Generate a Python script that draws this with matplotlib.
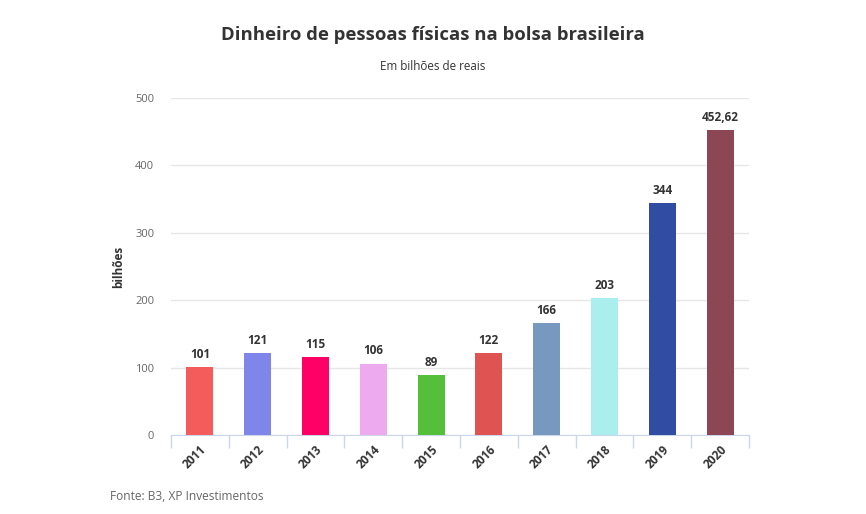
import matplotlib
matplotlib.use('Agg')
import matplotlib.pyplot as plt
import numpy as np

plt.rcParams['font.family'] = ['Open Sans', 'DejaVu Sans']

# data
anos = ['2011', '2012', '2013', '2014', '2015', '2016', '2017', '2018', '2019', '2020']
valores = [101, 121, 115, 106, 89, 122, 166, 203, 344, 452.62]
rotulos = ['101', '121', '115', '106', '89', '122', '166', '203', '344', '452,62']
cores = ['#f45b5b', '#8085e9', '#ff0066', '#eeaaee', '#55bf3b',
         '#df5353', '#7798bf', '#aaeeee', '#314ca3', '#8d4654']
y_ticks = [0, 100, 200, 300, 400, 500]

fig = plt.figure(figsize=(8.66, 5.14), dpi=100)
ax = fig.add_axes([171 / 866, 1 - 435 / 514, (749 - 171) / 866, (435 - 98) / 514])

x = np.arange(len(anos))
ax.bar(x, valores, width=0.47, color=cores, zorder=3)

for xi, v, r in zip(x, valores, rotulos):
    ax.text(xi, v + 9, r, ha='center', va='bottom', fontsize=8.5,
            fontweight='bold', color='#333333')

ax.set_xlim(-0.5, len(anos) - 0.5)
ax.set_ylim(0, 500)
ax.set_yticks(y_ticks)
ax.set_yticklabels([str(t) for t in y_ticks], color='#666666', fontsize=8)
ax.yaxis.grid(True, color='#e6e6e6', linewidth=1, zorder=0)
ax.tick_params(axis='y', length=0, pad=12)

# x ticks at the category boundaries, labels centered
ax.set_xticks(np.arange(len(anos) + 1) - 0.5)
ax.set_xticklabels([])
ax.tick_params(axis='x', which='major', length=9, color='#ccd6eb', width=1)
ax.set_xticks(x, minor=True)
ax.set_xticklabels(anos, minor=True, rotation=45, ha='right', rotation_mode='anchor',
                   fontsize=8.5, fontweight='bold', color='#333333')
ax.tick_params(axis='x', which='minor', length=0, pad=6)

for s in ['top', 'right', 'left']:
    ax.spines[s].set_visible(False)
ax.spines['bottom'].set_color('#ccd6eb')

ax.set_ylabel('bilhões', fontsize=8.5, fontweight='bold', color='#333333', labelpad=7)

fig.text(433 / 866, 1 - 35 / 514, 'Dinheiro de pessoas físicas na bolsa brasileira',
         ha='center', va='center', fontsize=13.3, fontweight='bold', color='#333333')
fig.text(433 / 866, 1 - 66 / 514, 'Em bilhões de reais', ha='center', va='center',
         fontsize=8.4, color='#333333')
fig.text(110 / 866, 1 - 496 / 514, 'Fonte: B3, XP Investimentos', ha='left', va='center',
         fontsize=8.6, color='#666666')

fig.savefig('out.png', dpi=100)
